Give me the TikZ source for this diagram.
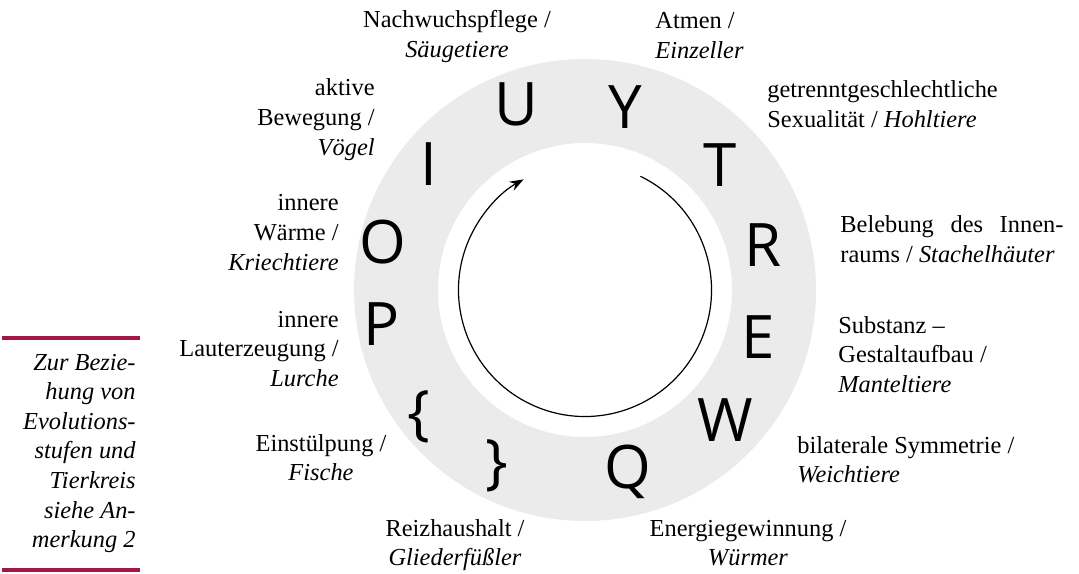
\documentclass[tikz,border=0pt]{standalone}
\usepackage{fontspec}
\setmainfont{Liberation Serif}
\newfontfamily\signfont{Open Sans}
\usepackage{xcolor}
\usepackage{tikz}
\usetikzlibrary{positioning, arrows.meta}
\definecolor{ringgray}{RGB}{235,235,235}
\definecolor{notered}{RGB}{163,22,72}

\begin{document}
\begin{tikzpicture}[x=0.5pt, y=0.5pt, >={Stealth[length=7pt, width=5pt]},
  sign/.style={font=\signfont\fontsize{30}{30}\selectfont, inner sep=0pt, text height=21.4pt, text depth=0pt},
  lab/.style={font=\fontsize{12.2}{14.8}\selectfont, inner sep=0pt},
  noterule/.style={notered, line width=1.8pt}]
  \useasboundingbox (0,0) rectangle (1079,573);
  \coordinate (mid) at (585,283);

  % ring and cycle arrow
  \fill [ringgray, even odd rule] (mid) circle [radius=231] (mid) circle [radius=147];
  \draw [->, line width=0.6pt] ([shift={(64:126.5)}]mid) arc [start angle=64, end angle=-241, radius=126.5];

  % signs
  \node (symU) [sign] at (516,469) {U};
  \node (symY) [sign] at (625,466) {Y};
  \node (symT) [sign] at (720,408) {T};
  \node (symR) [sign] at (763,328) {R};
  \node (symE) [sign] at (758,236) {E};
  \node (symW) [sign] at (725,153) {W};
  \node (symQ) [sign] at (628,106) {Q};
  \node (symRbrace) [sign] at (497,112) {\}};
  \node (symLbrace) [sign] at (419,161) {\{};
  \node (symP) [sign] at (382,249) {P};
  \node (symO) [sign] at (383,331) {O};
  \node (symI) [sign] at (429,409) {I};

  % labels (base = last line)
  \node (nachwuchs) [lab, align=center, anchor=base] at (457,515.4) {Nachwuchspflege /\\\textit{Säugetiere}};
  \node (atmen) [lab, align=left, anchor=base west] at (655,514.4) {Atmen /\\\textit{Einzeller}};
  \node (getrennt) [lab, align=left, anchor=base west] at (767,445.4) {getrenntgeschlechtliche\\Sexualität / \textit{Hohltiere}};
  \node (belebung) [lab, align=left, anchor=base west] at (840,310.4) {\makebox[111.5pt][s]{Belebung des Innen-}\\raums / \textit{Stachelhäuter}};
  \node (substanz) [lab, align=left, anchor=base west] at (838,180.8) {Substanz –\\Gestaltaufbau /\\\textit{Manteltiere}};
  \node (bilateral) [lab, align=left, anchor=base west] at (797,90.4) {bilaterale Symmetrie /\\\textit{Weichtiere}};
  \node (energie) [lab, align=center, anchor=base] at (748,7.4) {Energiegewinnung /\\\textit{Würmer}};
  \node (reiz) [lab, align=center, anchor=base] at (455,7.4) {Reizhaushalt /\\\textit{Gliederfüßler}};
  \node (einstuelp) [lab, align=center, anchor=base] at (321,92.4) {Einstülpung /\\\textit{Fische}};
  \node (laut) [lab, align=right, anchor=base east] at (339,186.8) {innere\\Lauterzeugung /\\\textit{Lurche}};
  \node (waerme) [lab, align=right, anchor=base east] at (339,302.8) {innere\\Wärme /\\\textit{Kriechtiere}};
  \node (bewegung) [lab, align=right, anchor=base east] at (375,417.8) {aktive\\Bewegung /\\\textit{Vögel}};

  % margin note
  \node (note) [lab, align=right, anchor=base east, font=\fontsize{12.2}{14.8}\selectfont\itshape] at (136,25.4)
    {Zur Bezie-\\hung von\\Evolutions-\\stufen und\\Tierkreis\\siehe An-\\merkung 2};
  \draw [noterule] (2,235) -- (140,235);
  \draw [noterule] (2,3) -- (140,3);
\end{tikzpicture}
\end{document}
